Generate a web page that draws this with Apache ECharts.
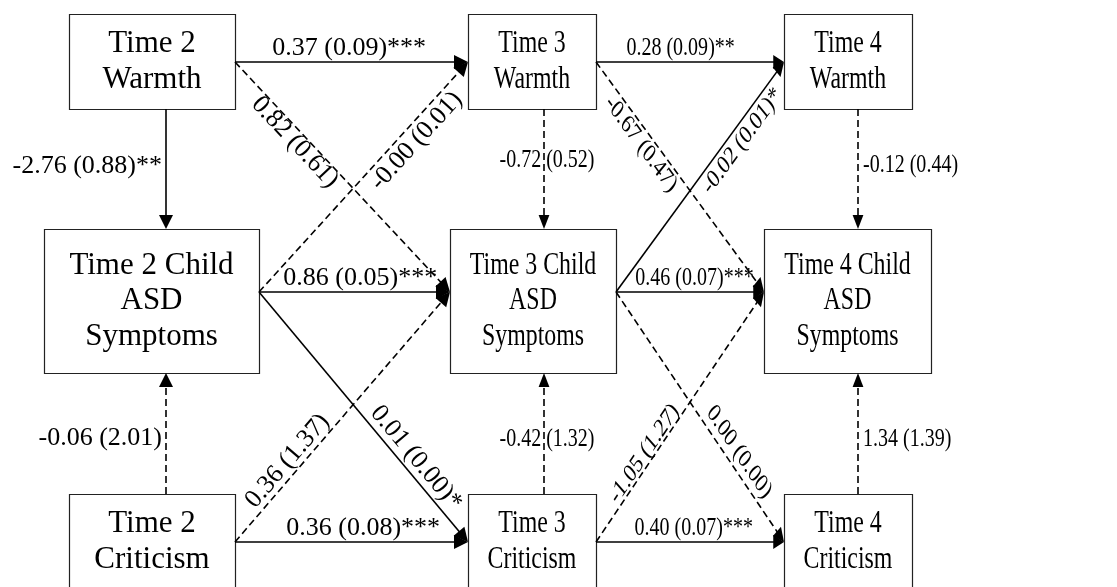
<!DOCTYPE html>
<html>
<head>
<meta charset="utf-8">
<script src="https://cdn.jsdelivr.net/npm/echarts@6/dist/echarts.min.js"></script>
<style>
  html, body { margin: 0; padding: 0; background: #fff; }
  #main { width: 1117px; height: 587px; }
</style>
</head>
<body>
<div id="main"></div>
<script>
// ---- data ----
var waves = ['Time 2', 'Time 3', 'Time 4'];
// {t} is replaced by the wave name; rows: W = warmth, A = ASD symptoms, C = criticism
var constructLabels = ['{t}\nWarmth', '{t} Child\nASD\nSymptoms', '{t}\nCriticism'];

// [from, to, estimate, se, stars]   node id = row letter + wave index
var stabilityPaths = [
  ['W0', 'W1', '0.37', '0.09', '***'],
  ['W1', 'W2', '0.28', '0.09', '**'],
  ['A0', 'A1', '0.86', '0.05', '***'],
  ['A1', 'A2', '0.46', '0.07', '***'],
  ['C0', 'C1', '0.36', '0.08', '***'],
  ['C1', 'C2', '0.40', '0.07', '***']
];
var withinPaths = [
  ['W0', 'A0', '-2.76', '0.88', '**'],
  ['W1', 'A1', '-0.72', '0.52', ''],
  ['W2', 'A2', '-0.12', '0.44', ''],
  ['C0', 'A0', '-0.06', '2.01', ''],
  ['C1', 'A1', '-0.42', '1.32', ''],
  ['C2', 'A2', '1.34', '1.39', '']
];
var crossPaths = [
  ['W0', 'A1', '0.82', '0.61', ''],
  ['A0', 'W1', '-0.00', '0.01', ''],
  ['A0', 'C1', '0.01', '0.00', '*'],
  ['C0', 'A1', '0.36', '1.37', ''],
  ['W1', 'A2', '-0.67', '0.47', ''],
  ['A1', 'W2', '-0.02', '0.01', '*'],
  ['A1', 'C2', '0.00', '0.00', ''],
  ['C1', 'A2', '-1.05', '1.27', '']
];

// ---- layout (px) ----
var colNarrow = [[69, 235], [468, 596], [784, 912]];
var colWide = [[44, 259], [450, 616], [764, 931]];
var colStem = [166, 544, 858];
var colScale = [1, 0.77, 0.77];      // the source picture is squeezed right of the first column
var rowTop = [14, 229, 494];
var rowBottom = [109, 373, 600];
var rowPort = [62, 292, 542];
var rowTextY = [62, 301, 542];
var stabilityLabelT = [0.49, 0.45, 0.53, 0.53, 0.55, 0.52];
var withinLabelT = [0.475, 0.43, 0.47, 0.46, 0.45, 0.45];
var crossLabelPlace = [[0.316, 11], [0.70, 15], [0.70, -14], [0.29, -13],
                       [0.326, 12], [0.689, 13], [0.669, -13], [0.333, -9]];

var BOX_FONT = '31px "Liberation Serif"';
var LABEL_FONT = '26px "Liberation Serif"';

function boxOf(id) {
  var row = 'WAC'.indexOf(id[0]), col = +id[1];
  var ext = row === 1 ? colWide[col] : colNarrow[col];
  return { row: row, col: col, x0: ext[0], x1: ext[1], y0: rowTop[row], y1: rowBottom[row] };
}

var nodes = [];
for (var r = 0; r < 3; r++) {
  for (var c = 0; c < 3; c++) {
    nodes.push({ id: 'WAC'[r] + c, text: constructLabels[r].replace('{t}', waves[c]) });
  }
}

var paths = [];
stabilityPaths.forEach(function (p, i) {
  var a = boxOf(p[0]), b = boxOf(p[1]);
  paths.push({ p: p, p0: [a.x1, rowPort[a.row]], p1: [b.x0, rowPort[b.row]], col: a.col,
               kind: 'h', t: stabilityLabelT[i], d: -14 });
});
withinPaths.forEach(function (p, i) {
  var a = boxOf(p[0]), b = boxOf(p[1]);
  var x = colStem[a.col], down = a.row < b.row;
  paths.push({ p: p, p0: [x, down ? a.y1 : a.y0], p1: [x, down ? b.y0 : b.y1], col: a.col,
               kind: 'v', t: withinLabelT[i] });
});
crossPaths.forEach(function (p, i) {
  var a = boxOf(p[0]), b = boxOf(p[1]);
  paths.push({ p: p, p0: [a.x1, rowPort[a.row]], p1: [b.x0, rowPort[b.row]], col: a.col,
               kind: 'd', t: crossLabelPlace[i][0], d: crossLabelPlace[i][1] });
});

function renderNode(params, api) {
  var n = nodes[params.dataIndex], b = boxOf(n.id);
  var tl = api.coord([b.x0, b.y0]), br = api.coord([b.x1, b.y1]);
  var ct = api.coord([(b.x0 + b.x1) / 2, rowTextY[b.row]]);
  return {
    type: 'group',
    children: [
      { type: 'rect', shape: { x: tl[0] + 0.5, y: tl[1] + 0.5, width: br[0] - tl[0], height: br[1] - tl[1] },
        style: { fill: '#fff', stroke: '#222', lineWidth: 1.2 } },
      { type: 'group', x: ct[0], y: ct[1], scaleX: colScale[b.col],
        children: [{ type: 'text', style: { text: n.text, x: 0, y: 0, align: 'center', verticalAlign: 'middle',
                     font: BOX_FONT, lineHeight: 35.5, fill: '#000' } }] }
    ]
  };
}

function renderPath(params, api) {
  var e = paths[params.dataIndex], p = e.p;
  var s = colScale[e.col];
  var a = api.coord(e.p0), b = api.coord(e.p1);
  var dx = b[0] - a[0], dy = b[1] - a[1];
  var len = Math.sqrt(dx * dx + dy * dy);
  var ux = dx / len, uy = dy / len;
  // arrow head in unsqueezed space, then squeezed in x
  var vx = dx / s, vy = dy, vl = Math.sqrt(vx * vx + vy * vy);
  vx /= vl; vy /= vl;
  var headL = 14, headW = 7;
  var bx = -headL * vx, by = -headL * vy;
  var head = [
    [b[0], b[1]],
    [b[0] + (bx - headW * vy) * s, b[1] + by + headW * vx],
    [b[0] + (bx + headW * vy) * s, b[1] + by - headW * vx]
  ];
  var endX = b[0] + (bx * 0.8) * s, endY = b[1] + by * 0.8;
  var solid = p[4] !== '';
  var text = p[2] + ' (' + p[3] + ')' + p[4];

  var lx = a[0] + dx * e.t, ly = a[1] + dy * e.t, align = 'center', rot = 0;
  if (e.kind === 'h') {
    ly += e.d;
  } else if (e.kind === 'v') {
    if (e.col === 0) { align = 'right'; lx -= 4; }
    else if (e.col === 1) { lx += 3; }
    else { align = 'left'; lx += 5; }
  } else {
    lx += -uy * e.d;
    ly += ux * e.d;
    rot = -Math.atan2(dy, dx / s);
  }

  return {
    type: 'group',
    children: [
      { type: 'line', shape: { x1: a[0], y1: a[1], x2: endX, y2: endY },
        style: { stroke: '#000', lineWidth: 1.6, lineDash: solid ? null : [7, 4] } },
      { type: 'polygon', shape: { points: head }, style: { fill: '#000' } },
      { type: 'group', x: lx, y: ly, scaleX: s,
        children: [{ type: 'text', rotation: rot,
                     style: { text: text, x: 0, y: 0, align: align, verticalAlign: 'middle',
                              font: LABEL_FONT, fill: '#000' } }] }
    ]
  };
}

var chart = echarts.init(document.getElementById('main'));
chart.setOption({
  animation: false,
  backgroundColor: '#fff',
  grid: { left: 0, right: 0, top: 0, bottom: 0 },
  xAxis: { type: 'value', min: 0, max: 1117, show: false },
  yAxis: { type: 'value', min: 0, max: 587, inverse: true, show: false },
  series: [
    { type: 'custom', clip: false, renderItem: renderNode,
      data: nodes.map(function (n) { var b = boxOf(n.id); return [(b.x0 + b.x1) / 2, rowTextY[b.row]]; }) },
    { type: 'custom', clip: false, renderItem: renderPath,
      data: paths.map(function (e) { return [e.p0[0], e.p0[1], e.p1[0], e.p1[1]]; }) }
  ]
});
</script>
</body>
</html>
